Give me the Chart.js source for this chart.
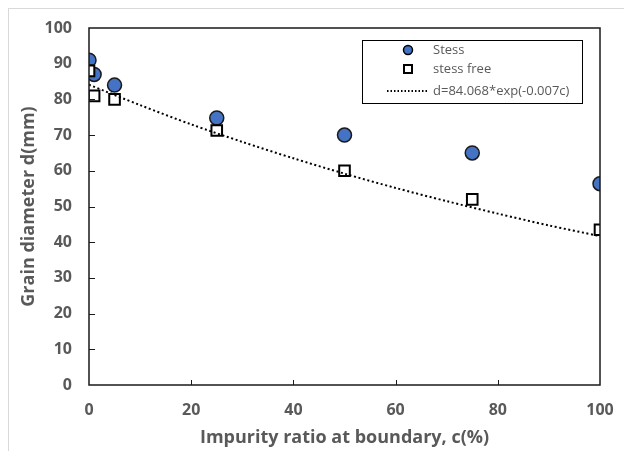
<!DOCTYPE html>
<html lang="en">
<head>
<meta charset="UTF-8">
<title>Grain diameter vs impurity ratio</title>
<script src="https://cdn.jsdelivr.net/npm/chart.js"></script>
<style>
  html, body { margin: 0; padding: 0; background: #fff; }
  #wrap { position: relative; width: 624px; height: 451px; }
  #frame { position: absolute; left: 8px; top: 8px; right: -2px; bottom: -2px;
           border-left: 1px solid #d9d9d9; border-top: 1px solid #d9d9d9; pointer-events: none; }
</style>
</head>
<body>
<div id="wrap">
  <canvas id="chart" width="624" height="451"></canvas>
  <div id="frame"></div>
</div>
<script>
// data
const ratios = [0, 1, 5, 25, 50, 75, 100];
const stress = [91, 87, 84, 74.8, 70, 65, 56.4];
const stressFree = [88, 81, 80, 71.3, 60, 52, 43.5];
const fitC = [0, 10, 20, 30, 40, 50, 60, 70, 80, 90, 100];
const fitD = [84.1, 78.4, 73.0, 68.1, 63.5, 59.2, 55.2, 51.5, 48.0, 44.7, 41.7];
const xTicks = [0, 20, 40, 60, 80, 100];
const yTicks = [0, 10, 20, 30, 40, 50, 60, 70, 80, 90, 100];
const legendLabels = ['Stess', 'stess free', 'd=84.068*exp(-0.007c)'];

const grey = '#595959';
const font = 'Open Sans';

const toPts = (xs, ys) => xs.map((x, i) => ({ x: x, y: ys[i] }));

// plot frame, inside tick marks and the boxed legend
const decor = {
  id: 'decor',
  afterDatasetsDraw(chart) {
    const { ctx, chartArea: a, scales: { x, y } } = chart;
    ctx.save();
    ctx.strokeStyle = '#1a1a1a';
    ctx.lineWidth = 1.5;
    ctx.strokeRect(a.left, a.top, a.right - a.left, a.bottom - a.top);
    ctx.lineWidth = 1;
    ctx.beginPath();
    xTicks.slice(1, -1).forEach(v => {
      const px = Math.round(x.getPixelForValue(v)) + 0.5;
      ctx.moveTo(px, a.bottom); ctx.lineTo(px, a.bottom - 5);
    });
    yTicks.slice(1, -1).forEach(v => {
      const py = Math.round(y.getPixelForValue(v)) + 0.5;
      ctx.moveTo(a.left, py); ctx.lineTo(a.left + 6, py);
    });
    ctx.stroke();

    // legend
    const bx = a.right - 238, by = a.top + 12, bw = 220, bh = 63;
    ctx.fillStyle = '#fff';
    ctx.fillRect(bx, by, bw, bh);
    ctx.strokeStyle = '#000';
    ctx.lineWidth = 1;
    ctx.strokeRect(bx + 0.5, by + 0.5, bw, bh);
    const mx = bx + 46, tx = bx + 71;
    const rows = [by + 10, by + 29, by + 51];
    ctx.lineWidth = 1.5;
    ctx.fillStyle = '#4472C4';
    ctx.beginPath(); ctx.arc(mx, rows[0], 4.5, 0, Math.PI * 2); ctx.fill(); ctx.stroke();
    ctx.fillStyle = '#fff';
    ctx.lineWidth = 2;
    ctx.fillRect(mx - 4, rows[1] - 4, 8, 8); ctx.strokeRect(mx - 4, rows[1] - 4, 8, 8);
    ctx.setLineDash([1.5, 2]);
    ctx.lineWidth = 1.8;
    ctx.beginPath(); ctx.moveTo(bx + 25, rows[2]); ctx.lineTo(bx + 67, rows[2]); ctx.stroke();
    ctx.setLineDash([]);
    ctx.fillStyle = grey;
    ctx.font = '13px "' + font + '"';
    ctx.textBaseline = 'middle';
    legendLabels.forEach((t, i) => ctx.fillText(t, tx, rows[i]));
    ctx.restore();
  }
};

new Chart(document.getElementById('chart'), {
  type: 'scatter',
  data: {
    datasets: [
      {
        label: legendLabels[0],
        data: toPts(ratios, stress),
        pointStyle: 'circle',
        pointRadius: 7,
        backgroundColor: '#4472C4',
        borderColor: '#1a1a1a',
        borderWidth: 1.5,
        order: 3
      },
      {
        label: legendLabels[1],
        data: toPts(ratios, stressFree),
        pointStyle: 'rect',
        pointRadius: 7.5,
        backgroundColor: '#fff',
        borderColor: '#000',
        borderWidth: 2,
        order: 2
      },
      {
        label: legendLabels[2],
        data: toPts(fitC, fitD),
        showLine: true,
        pointRadius: 0,
        borderColor: '#000',
        borderWidth: 2,
        borderDash: [2, 2.6],
        tension: 0.3,
        fill: false,
        order: 1
      }
    ]
  },
  options: {
    responsive: false,
    animation: false,
    layout: { padding: { left: 0, right: 24, top: 28, bottom: 0 } },
    plugins: { legend: { display: false }, tooltip: { enabled: false } },
    scales: {
      x: {
        type: 'linear',
        min: 0, max: 100,
        afterBuildTicks: s => { s.ticks = xTicks.map(v => ({ value: v })); },
        afterFit: s => { s.height = 66; s.paddingLeft = 0; s.paddingRight = 0; },
        grid: { display: false, drawTicks: false },
        border: { display: false },
        ticks: { padding: 16, color: grey, font: { family: font, size: 16, weight: 'bold' } },
        title: {
          display: true,
          text: 'Impurity ratio at boundary, c(%)',
          color: grey,
          font: { family: font, size: 18, weight: 'bold' },
          padding: { top: 0, bottom: 2 }
        }
      },
      y: {
        type: 'linear',
        min: 0, max: 100,
        afterBuildTicks: s => { s.ticks = yTicks.map(v => ({ value: v })); },
        afterFit: s => { s.width = 89; s.paddingTop = 0; s.paddingBottom = 0; },
        grid: { display: false, drawTicks: false },
        border: { display: false },
        ticks: { padding: 17, color: grey, font: { family: font, size: 16, weight: 'bold' } },
        title: {
          display: true,
          text: 'Grain diameter d(mm)',
          color: grey,
          font: { family: font, size: 18, weight: 'bold' },
          padding: { top: 18, bottom: 0 }
        }
      }
    }
  },
  plugins: [decor]
});
</script>
</body>
</html>
